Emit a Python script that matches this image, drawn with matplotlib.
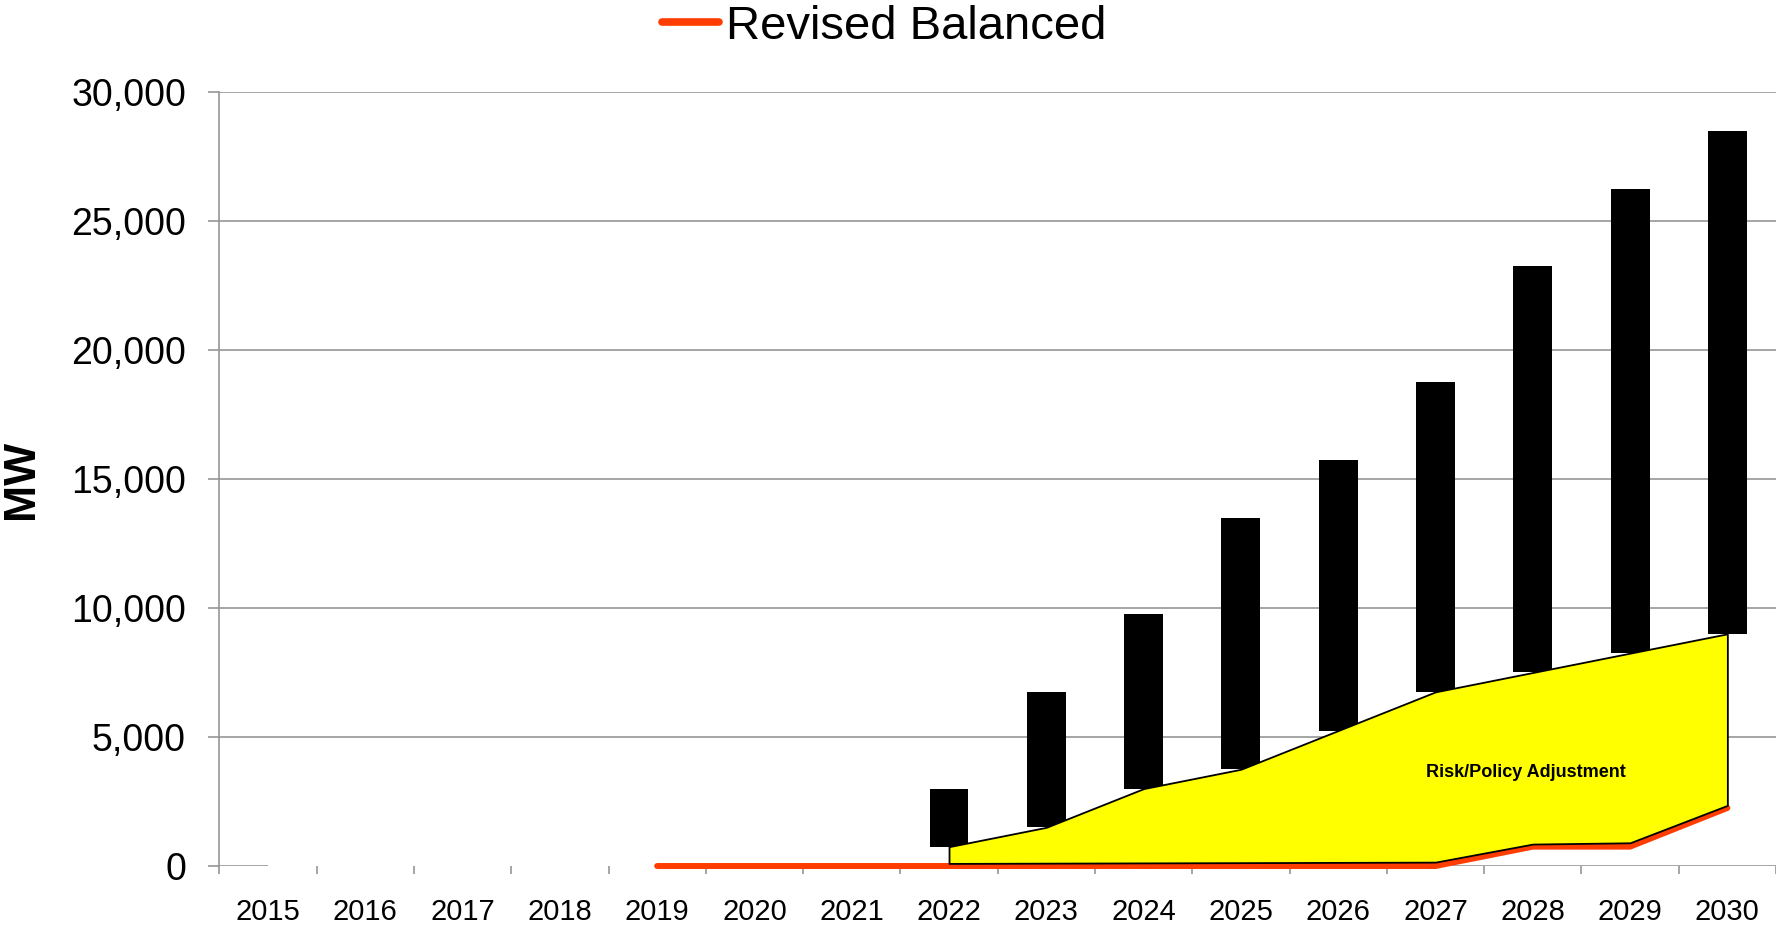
import matplotlib
matplotlib.use("Agg")
import matplotlib.pyplot as plt
from matplotlib.lines import Line2D
from matplotlib.ticker import FuncFormatter
import numpy as np

plt.rcParams['font.family'] = ['Liberation Sans', 'DejaVu Sans']

# Years on the category axis
years = [2015, 2016, 2017, 2018, 2019, 2020, 2021, 2022,
         2023, 2024, 2025, 2026, 2027, 2028, 2029, 2030]

# Floating black bars (range of need), 2022-2030
bar_years = [2022, 2023, 2024, 2025, 2026, 2027, 2028, 2029, 2030]
bar_low = [750, 1500, 3000, 3750, 5250, 6750, 7500, 8250, 9000]
bar_high = [3000, 6750, 9750, 13500, 15750, 18750, 23250, 26250, 28500]

# Yellow risk/policy adjustment band: lower edge (upper edge = bar_low)
band_low = [100, 110, 120, 130, 140, 150, 850, 900, 2350]

# Revised Balanced line, 2019-2030
line_years = [2019, 2020, 2021, 2022, 2023, 2024, 2025, 2026, 2027, 2028, 2029, 2030]
line_vals = [0, 0, 0, 0, 0, 0, 0, 0, 0, 750, 750, 2250]

RED = '#FF3D00'
GRID = '#969696'

fig = plt.figure(figsize=(17.76, 9.27), dpi=100)
ax = fig.add_axes([0.1235, 0.0658, 0.8765, 0.835])

pos = {y: i for i, y in enumerate(years)}
bx = np.array([pos[y] for y in bar_years])
lx = np.array([pos[y] for y in line_years])

# horizontal gridlines (zero line only shows outside the blank stretch)
for v in range(5000, 30001, 5000):
    ax.axhline(v, color=GRID, lw=1.2, zorder=0)
ax.hlines(0, -0.5, pos[2015], color=GRID, lw=1.2, zorder=0)
ax.hlines(0, pos[2019], 15.5, color=GRID, lw=1.2, zorder=0)

# floating bars
ax.bar(bx, np.array(bar_high) - np.array(bar_low), bottom=bar_low,
       width=0.4, color='black', zorder=2)

# revised balanced line
ax.plot(lx, line_vals, color=RED, lw=4.3, solid_capstyle='round',
        zorder=3, clip_on=False)

# adjustment band
ax.fill_between(bx, band_low, bar_low, facecolor='#FFFF00',
                edgecolor='black', lw=1.3, zorder=4)
ax.text(12.93, 3640, 'Risk/Policy Adjustment', fontsize=13,
        fontweight='bold', ha='center', va='center', zorder=5)

ax.set_xlim(-0.5, 15.5)
ax.set_ylim(0, 30000)

# category boundaries as ticks, labels at centres
ax.set_xticks(np.arange(-0.5, 16, 1))
ax.set_xticklabels([])
ax.set_xticks(np.arange(len(years)), minor=True)
ax.set_xticklabels([str(y) for y in years], minor=True, fontsize=21)
ax.tick_params(axis='x', which='major', direction='out', length=6,
               width=1.2, color=GRID)
ax.tick_params(axis='x', which='minor', length=0, pad=23)

ax.set_yticks(range(0, 30001, 5000))
ax.yaxis.set_major_formatter(FuncFormatter(lambda v, p: f'{int(v):,}'))
ax.tick_params(axis='y', direction='out', length=8, width=1.2,
               color=GRID, labelsize=27, pad=16)

for s in ['top', 'right', 'bottom']:
    ax.spines[s].set_visible(False)
ax.spines['left'].set_color(GRID)
ax.spines['left'].set_linewidth(1.2)

ax.set_ylabel('MW', fontsize=32, fontweight='bold')
ax.yaxis.set_label_coords(-0.1138, 0.5)

handle = Line2D([], [], color=RED, lw=5.5, solid_capstyle='round')
fig.legend([handle], ['Revised Balanced'], loc='center',
           bbox_to_anchor=(0.498, 0.971), frameon=False, fontsize=34,
           handlelength=1.2, handletextpad=0.15, borderpad=0)

fig.savefig('out.png', dpi=100)
